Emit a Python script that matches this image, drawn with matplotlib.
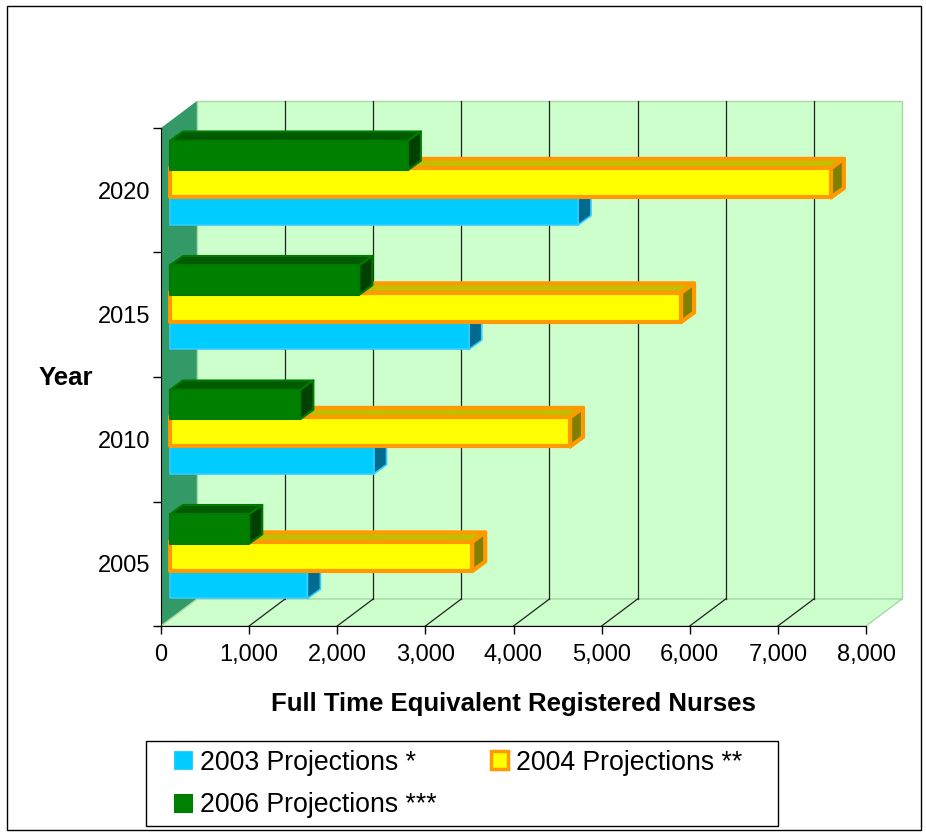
import numpy as np
import matplotlib
matplotlib.use("Agg")
import matplotlib.pyplot as plt
from matplotlib.patches import Polygon, Rectangle, Patch

plt.rcParams['font.family'] = ['Liberation Sans', 'DejaVu Sans']

# data
years = ['2005', '2010', '2015', '2020']
proj_2003 = [1560, 2310, 3390, 4630]
proj_2004 = [3430, 4540, 5800, 7500]
proj_2006 = [900, 1480, 2150, 2700]
x_ticks = [0, 1000, 2000, 3000, 4000, 5000, 6000, 7000, 8000]

W, H = 926, 836
fig = plt.figure(figsize=(W / 100, H / 100), dpi=100)
ax = fig.add_axes([161/W, 210/H, 705/W, 498/H])
ax.set_xlim(0, 8000)
ax.set_ylim(0, 4)
ax.set_facecolor('none')

# 3D wall offsets (data units)
wdx, wdy = 408, 0.217
xmax = 8000
ny = len(years)

# left wall
ax.add_patch(Polygon([(0, 0), (0, ny), (wdx, ny + wdy), (wdx, wdy)],
                     closed=True, fc='#339966', ec='none', zorder=0.5, clip_on=False))
# back wall
ax.add_patch(Polygon([(wdx, wdy), (xmax + wdx, wdy), (xmax + wdx, ny + wdy), (wdx, ny + wdy)],
                     closed=True, fc='#CCFFCC', ec='#A8D8A8', lw=1, zorder=0.5, clip_on=False))
# floor
ax.add_patch(Polygon([(0, 0), (xmax, 0), (xmax + wdx, wdy), (wdx, wdy)],
                     closed=True, fc='#CCFFCC', ec='#A8D8A8', lw=1, zorder=0.5, clip_on=False))

for t in x_ticks[1:-1]:
    ax.plot([t + wdx, t + wdx], [wdy, ny + wdy], color='#222222', lw=0.9, zorder=0.6, clip_on=False)
    ax.plot([t, t + wdx], [0, wdy], color='#222222', lw=0.9, zorder=0.6, clip_on=False)

# bars
x0 = 102
bdx, bdy = 147, 0.075
bh = 0.235


def box(xs, y0, w, front, top, side, edge, lw, z):
    x1 = xs + w
    faces = [
        ([(xs, y0 + bh), (x1, y0 + bh), (x1 + bdx, y0 + bh + bdy), (xs + bdx, y0 + bh + bdy)], top),
        ([(x1, y0), (x1 + bdx, y0 + bdy), (x1 + bdx, y0 + bh + bdy), (x1, y0 + bh)], side),
        ([(xs, y0), (x1, y0), (x1, y0 + bh), (xs, y0 + bh)], front),
    ]
    for pts, c in faces:
        ax.add_patch(Polygon(pts, closed=True, fc=c, ec=edge, lw=lw, joinstyle='round',
                             zorder=z, clip_on=False))


series = [
    (proj_2003, 0.221, '#00CCFF', '#00CCFF', '#006B8F', '#33CCFF', 1.2),
    (proj_2004, 0.442, '#FFFF00', '#C0C000', '#808000', '#FF9900', 3.0),
    (proj_2006, 0.662, '#008000', '#005A00', '#004000', '#007A00', 1.5),
]
for i in range(ny - 1, -1, -1):
    for k, (vals, off, fc, tc, sc, ec, lw) in enumerate(series):
        box(x0, i + off, vals[i], fc, tc, sc, ec, lw, 2 + (ny - i) * 3 + k)

# axes, ticks
for s in ['top', 'right']:
    ax.spines[s].set_visible(False)
ax.spines['left'].set_zorder(30)
ax.spines['bottom'].set_zorder(30)
ax.set_xticks(x_ticks)
ax.set_xticklabels([f'{t:,}' for t in x_ticks])
ax.set_yticks(range(ny + 1))
ax.set_yticklabels([])
ax.set_yticks(np.arange(ny) + 0.5, minor=True)
ax.set_yticklabels(years, minor=True)
ax.tick_params(axis='x', direction='out', length=6, width=1, pad=7, labelsize=17)
ax.tick_params(axis='y', which='major', direction='out', length=6, width=1)
ax.tick_params(axis='y', which='minor', length=0, pad=8, labelsize=17)

fig.text(66/W, 1 - 378/H, 'Year', fontsize=18.5, fontweight='bold', ha='center', va='center')
fig.text(513/W, 1 - 704/H, 'Full Time Equivalent Registered Nurses', fontsize=18.5,
         fontweight='bold', ha='center', va='center')

handles = [
    Patch(fc='#00CCFF', ec='#33CCFF', lw=0.8),
    Patch(fc='#008000', ec='#007A00', lw=0.8),
    Patch(fc='#FFFF00', ec='#FF9900', lw=2.5),
]
labels = ['2003 Projections *', '2006 Projections ***', '2004 Projections **']
leg = fig.legend(handles, labels, ncol=2, loc='center left',
                 bbox_to_anchor=(174/W, 1 - 784/H), fontsize=19.2,
                 handlelength=0.66, handleheight=0.66, handletextpad=0.3,
                 columnspacing=2.05, labelspacing=0.62, borderpad=0, borderaxespad=0,
                 frameon=False)

# legend box
fig.patches.append(Rectangle((146/W, 1 - 826/H), 632/W, 85/H, transform=fig.transFigure,
                             fill=False, ec='black', lw=1))
# outer chart border
fig.patches.append(Rectangle((7/W, 6/H), 914/W, 824/H, transform=fig.transFigure,
                             fill=False, ec='black', lw=1))

fig.savefig('out.png', dpi=100)
